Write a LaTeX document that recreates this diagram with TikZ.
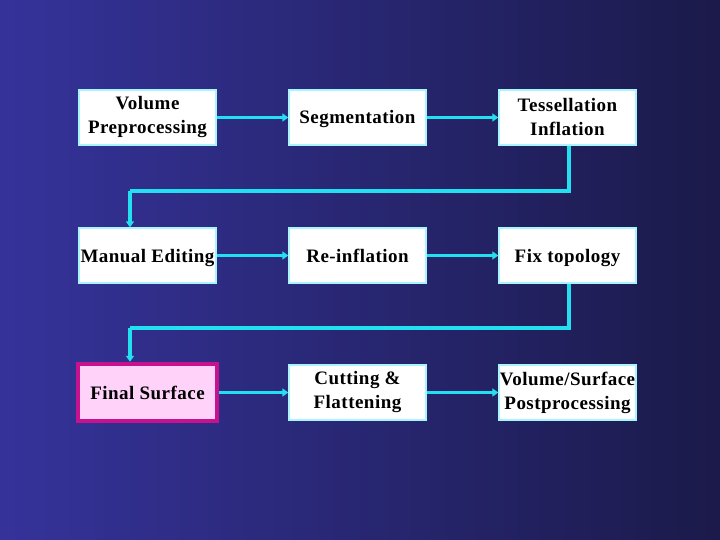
\documentclass[tikz,border=0pt]{standalone}
\usepackage{fontspec}
\setmainfont{Liberation Serif}[LetterSpace=2.5]
\usetikzlibrary{arrows.meta}
\definecolor{bgL}{HTML}{35339A}
\definecolor{bgR}{HTML}{1B1A4A}
\definecolor{cy}{HTML}{22E0F0}
\definecolor{boxline}{HTML}{A8F4FF}
\definecolor{mag}{HTML}{C8118F}
\definecolor{pinkfill}{HTML}{FFD2FA}
\tikzset{
  stage/.style={draw=boxline, line width=1.3pt, fill=white, minimum width=137pt, minimum height=55pt,
    inner sep=0pt, align=center, font=\fontsize{19}{24}\selectfont\bfseries, text=black},
  oneline/.style={text height=13pt, text depth=0pt},
  finalbox/.style={stage, oneline, draw=mag, line width=4.5pt, fill=pinkfill, minimum width=139pt, minimum height=57pt},
  flow/.style={draw=cy, line width=3.5pt, -{Triangle[length=6pt,width=8pt]}},
  link/.style={draw=cy, line width=3.5pt}
}
\begin{document}
\begin{tikzpicture}[x=1pt,y=-1pt]
\shade[left color=bgL, right color=bgR] (0,0) rectangle (720,540);
\useasboundingbox (0,0) rectangle (720,540);
\node[stage] (vp) at (147.5,117.5) {Volume\\Preprocessing};
\node[stage, oneline] (seg) at (357.5,117.5) {Segmentation};
\node[stage] (tess) at (567.5,117.5) {Tessellation\\Inflation};
\node[stage, oneline] (man) at (147.5,255.5) {Manual Editing};
\node[stage, oneline] (reinf) at (357.5,255.5) {Re-inflation};
\node[stage, oneline] (fix) at (567.5,255.5) {Fix topology};
\node[finalbox] (fin) at (147.5,392.5) {Final Surface};
\node[stage] (cut) at (357.5,392.5) {Cutting \&\\Flattening};
\node[stage] (post) at (567.5,392.5) {Volume/Surface\\Postprocessing};
\coordinate (t1) at (569,191);
\coordinate (t2) at (130,191);
\coordinate (f1) at (569,328);
\coordinate (f2) at (130,328);
\draw[flow] (vp) -- (seg);
\draw[flow] (seg) -- (tess);
\draw[link] (tess.south -| t1) -- (t1) -- (t2);
\draw[flow] (t2) -- (t2 |- man.north);
\draw[flow] (man) -- (reinf);
\draw[flow] (reinf) -- (fix);
\draw[link] (fix.south -| f1) -- (f1) -- (f2);
\draw[flow] (f2) -- (f2 |- fin.north);
\draw[flow] (fin) -- (cut);
\draw[flow] (cut) -- (post);
\end{tikzpicture}
\end{document}
